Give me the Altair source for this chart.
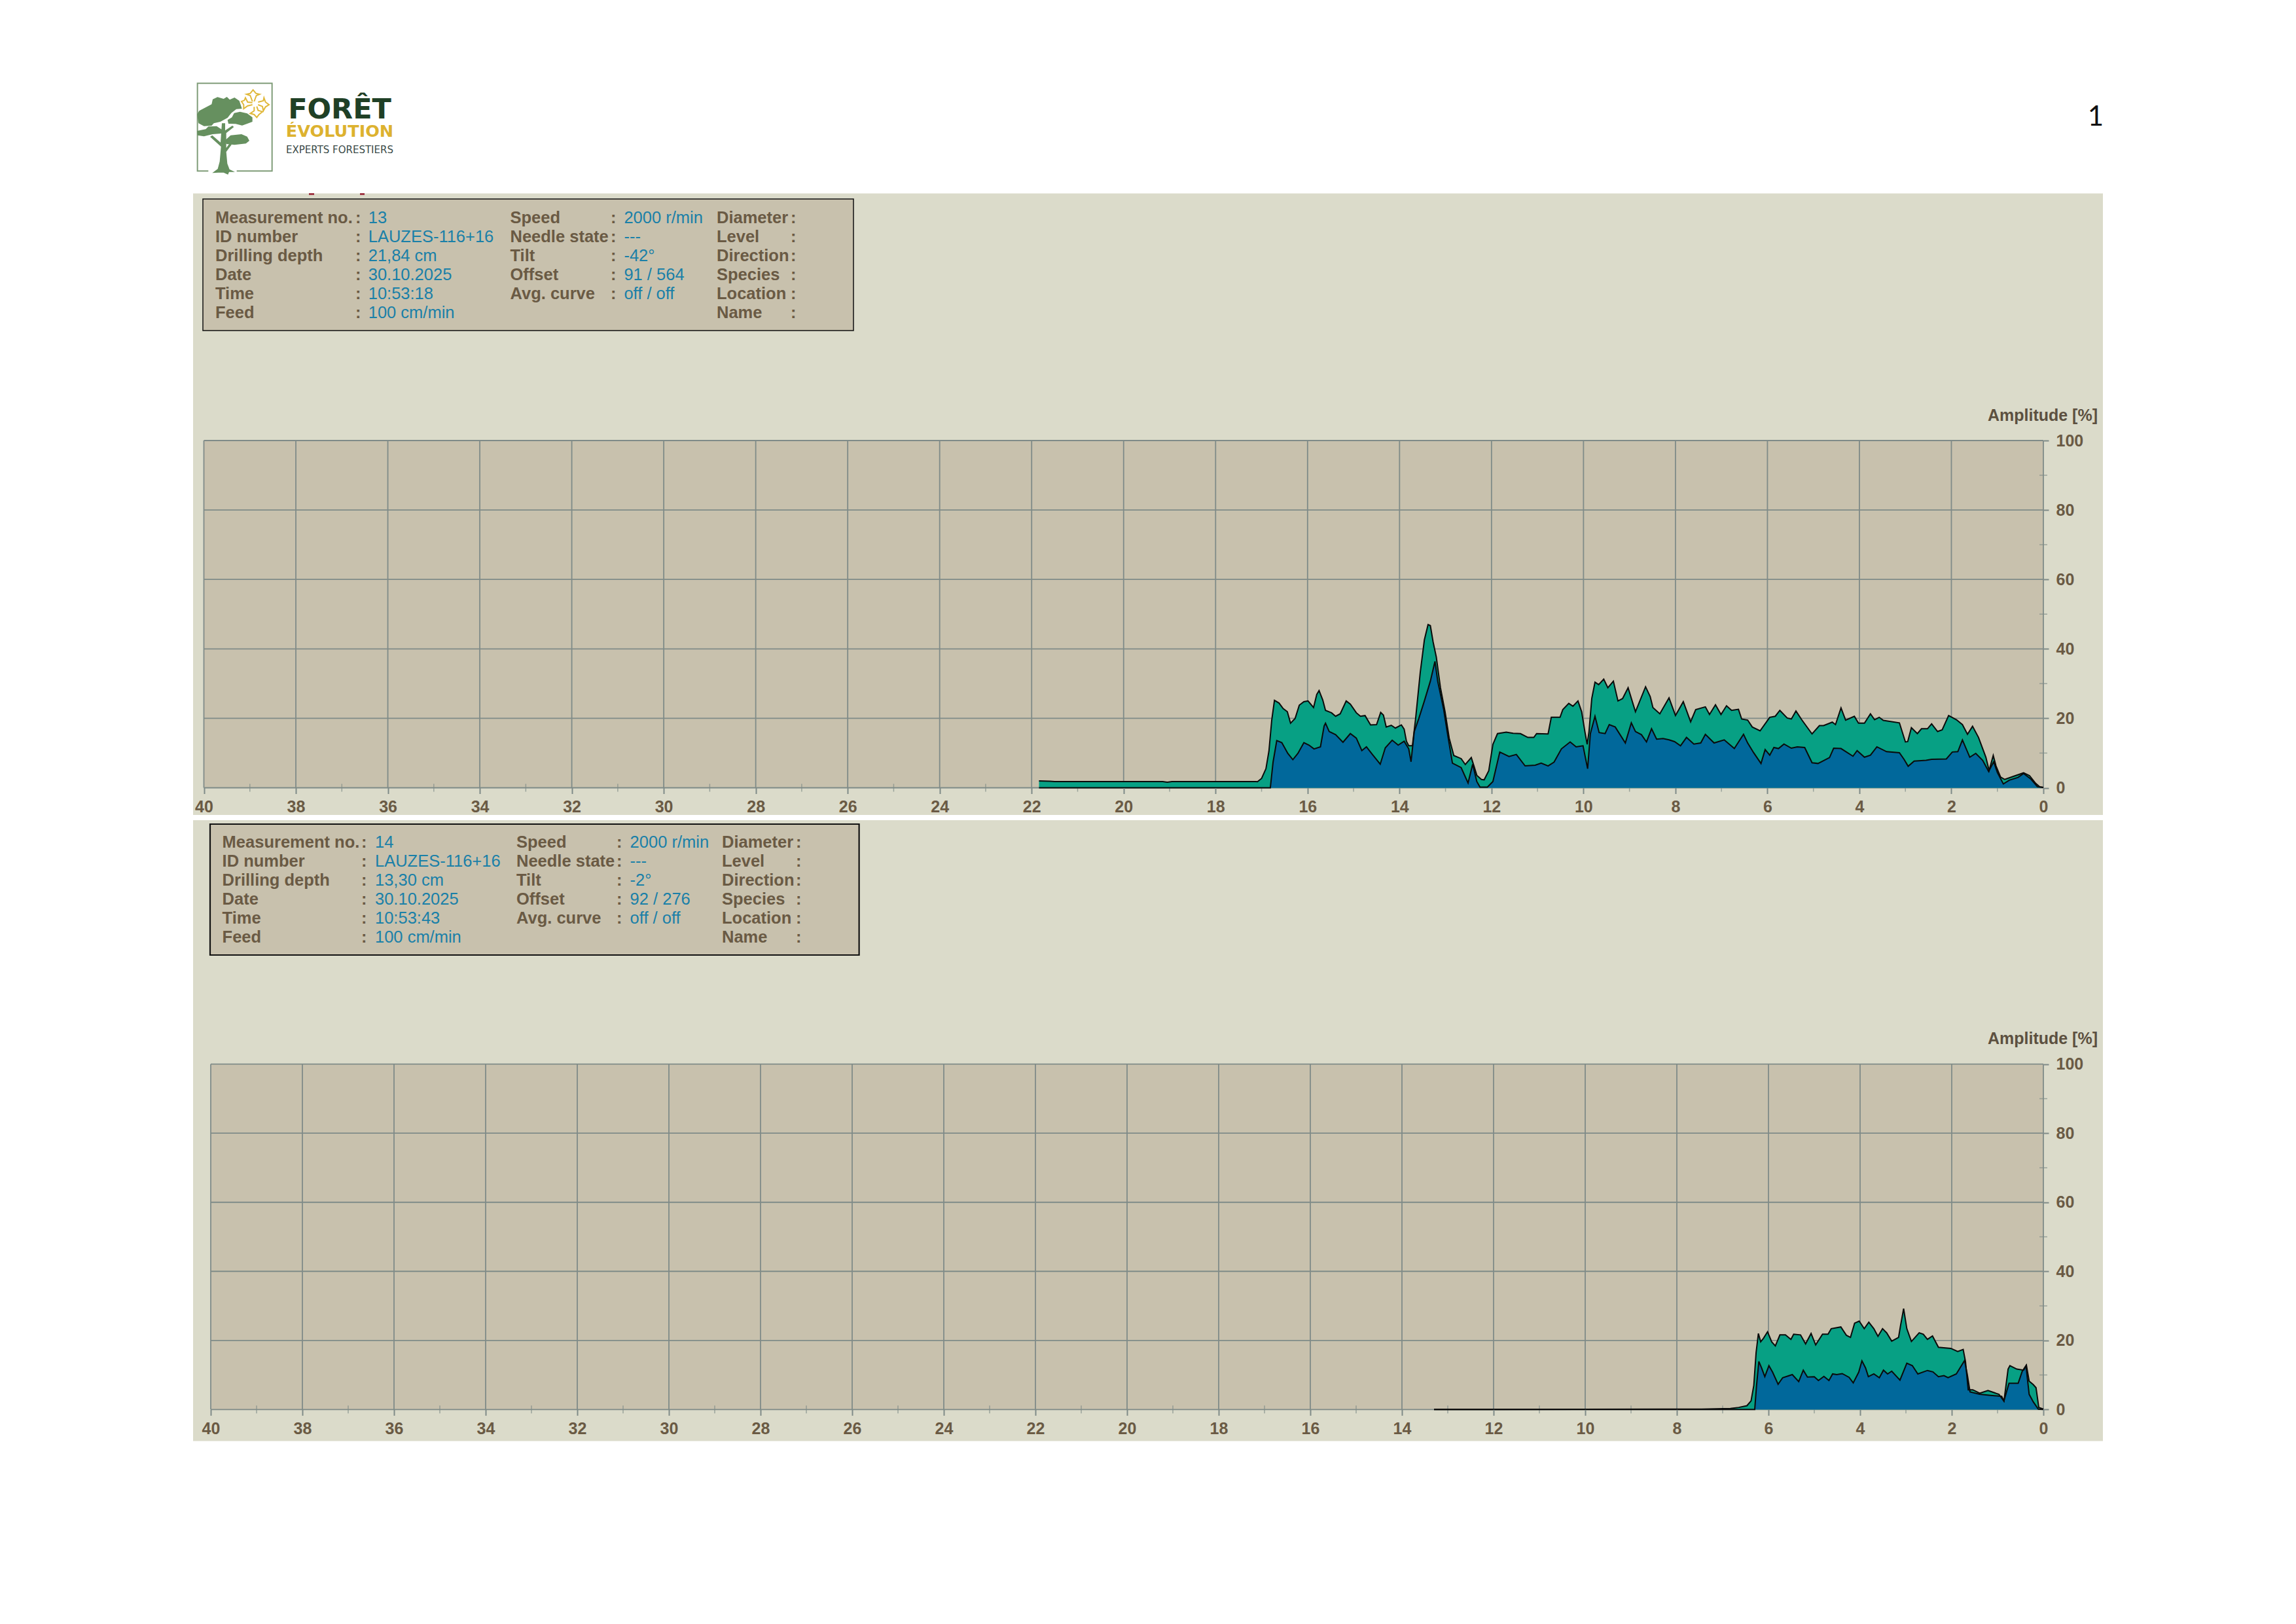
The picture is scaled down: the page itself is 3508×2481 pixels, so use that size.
import altair as alt

# ---------- data ----------
p1_green_cm = [21.84,21.6,21.5,21.3,19.15,19.05,18.95,17.12,17.09,17.0,16.905,16.84,16.78,16.72,16.62,16.53,16.44,16.37,16.27,16.18,16.08,15.99,15.87,15.8,15.75,15.67,15.61,15.48,15.39,15.29,15.16,15.07,14.94,14.85,14.75,14.63,14.5,14.41,14.35,14.29,14.18,14.09,13.96,13.9,13.85,13.8,13.72,13.65,13.55,13.46,13.38,13.33,13.27,13.2,13.11,13.01,12.92,12.82,12.66,12.57,12.44,12.38,12.32,12.22,12.16,12.06,11.97,11.87,11.68,11.53,11.37,11.21,11.08,11.02,10.77,10.7,10.51,10.45,10.32,10.23,10.12,10.04,9.97,9.92,9.88,9.82,9.75,9.67,9.56,9.47,9.35,9.25,9.15,9.03,8.87,8.65,8.55,8.49,8.34,8.14,8.0,7.83,7.67,7.56,7.35,7.26,7.13,7.01,6.89,6.78,6.63,6.56,6.43,6.33,6.16,5.95,5.83,5.73,5.57,5.48,5.38,5.25,5.03,4.87,4.78,4.59,4.52,4.4,4.3,4.11,4.02,3.89,3.76,3.67,3.57,3.48,3.13,3.0,2.95,2.87,2.74,2.65,2.52,2.43,2.3,2.2,2.06,1.89,1.76,1.65,1.54,1.41,1.25,1.18,1.09,1.03,0.93,0.84,0.65,0.43,0.3,0.17,0.08,0.0]
p1_green_amp = [2.0,1.9,1.8,1.8,1.8,1.6,1.8,1.8,1.76,2.7,5.5,10.6,19.4,25.2,24.4,22.8,21.9,18.6,20.0,23.8,24.8,25.0,23.1,26.9,28.0,25.3,22.3,21.6,20.6,21.3,25.0,24.1,21.6,20.6,20.8,18.1,18.2,21.7,20.9,17.5,18.0,17.2,18.1,16.9,13.4,12.1,12.1,20.0,33.2,42.6,47.0,46.7,42.0,37.6,28.8,21.9,14.3,9.3,8.4,6.7,8.7,6.2,3.6,2.4,2.3,4.9,12.5,15.6,16.0,15.7,15.6,14.5,14.5,15.6,15.5,20.3,20.3,22.5,24.3,23.5,25.0,21.9,16.2,12.5,16.2,25.7,30.4,29.7,31.3,28.8,30.7,25.0,25.7,28.8,21.9,29.1,26.3,23.1,21.3,25.9,20.8,24.8,19.0,22.5,23.3,21.1,23.9,21.1,23.6,22.3,22.6,19.8,19.5,17.5,16.4,20.3,20.6,22.3,20.1,19.8,22.1,19.5,15.5,17.9,17.9,18.9,18.2,23.0,19.5,20.6,18.6,18.6,21.3,19.6,20.3,19.4,18.7,13.2,13.3,17.3,15.6,17.0,17.0,18.4,16.2,16.7,20.8,19.6,18.2,15.4,17.7,14.5,8.8,5.0,9.3,6.3,3.1,2.4,3.3,4.3,3.5,1.3,0.3,0.1]

p1_blue_cm = [21.84,16.81,16.75,16.67,16.56,16.43,16.32,16.21,16.08,15.97,15.86,15.72,15.64,15.61,15.53,15.39,15.23,15.07,14.94,14.82,14.72,14.59,14.42,14.31,14.16,14.03,13.9,13.8,13.75,13.68,13.58,13.46,13.33,13.23,13.17,13.04,12.95,12.85,12.66,12.51,12.41,12.32,12.25,12.09,11.97,11.82,11.62,11.46,11.27,11.05,10.92,10.77,10.64,10.48,10.29,10.16,10.01,9.91,9.85,9.75,9.66,9.53,9.44,9.31,9.09,8.96,8.87,8.74,8.63,8.52,8.41,8.27,8.14,8.02,7.89,7.76,7.6,7.45,7.35,7.16,6.94,6.72,6.52,6.43,6.3,6.14,6.05,5.95,5.86,5.76,5.64,5.48,5.35,5.19,5.03,4.9,4.65,4.56,4.4,4.14,4.05,3.89,3.76,3.62,3.41,3.13,3.03,2.94,2.81,2.55,2.43,2.11,1.98,1.86,1.76,1.6,1.47,1.32,1.19,1.08,1.0,0.87,0.74,0.55,0.43,0.27,0.13,0.0]
p1_blue_amp = [0,0,7.4,13.6,13.0,9.9,8.1,9.9,13.0,12.3,11.2,11.8,17.8,18.6,16.2,15.3,13.1,15.6,14.3,10.7,11.8,9.6,6.8,11.5,13.7,12.3,13.4,11.2,7.5,16.2,20.0,25.0,30.7,36.4,30.7,22.5,15.0,7.1,5.8,1.4,6.8,1.8,0.2,0.2,1.8,10.3,9.0,9.6,6.3,6.5,7.1,6.3,7.4,11.2,13.2,11.8,12.1,5.5,15.6,20.6,15.9,15.6,18.2,17.5,12.9,18.7,16.2,15.3,13.2,17.0,14.0,14.2,13.8,13.3,12.1,14.5,12.6,12.9,15.4,12.9,13.8,11.3,15.4,12.9,10.1,7.0,11.0,9.4,11.6,11.3,12.6,11.4,11.8,11.6,7.2,7.0,8.7,11.4,11.3,9.1,10.7,8.8,9.4,11.8,10.4,10.1,8.2,6.2,7.7,7.9,8.2,8.3,10.3,10.4,13.8,8.8,9.9,7.9,4.7,7.5,4.4,1.1,2.2,3.0,4.1,2.5,0.3,0.1]

p2_green_cm = [13.3,7.46,6.83,6.65,6.47,6.38,6.32,6.27,6.22,6.17,6.11,6.02,5.93,5.85,5.75,5.63,5.51,5.45,5.3,5.19,5.07,4.97,4.82,4.7,4.63,4.42,4.3,4.21,4.12,4.02,3.91,3.81,3.7,3.61,3.51,3.42,3.31,3.16,3.12,3.05,2.98,2.88,2.71,2.62,2.53,2.42,2.29,2.02,1.87,1.75,1.7,1.64,1.54,1.39,1.21,0.97,0.86,0.77,0.73,0.58,0.43,0.37,0.31,0.22,0.16,0.1,0.0]
p2_green_amp = [0,0.1,0.3,0.6,1.1,2.5,7.0,16.5,22.0,19.6,20.6,22.5,19.6,18.4,21.6,21.6,20.3,21.8,21.6,19.0,22.0,18.7,21.8,21.8,23.4,23.9,21.5,20.9,25.0,25.6,23.4,25.3,23.4,21.2,23.4,22.2,19.8,20.9,24.1,29.2,23.4,19.7,22.2,21.8,20.3,21.3,18.0,17.7,16.8,17.4,13.9,5.7,5.7,4.7,5.5,4.4,2.4,11.7,12.7,11.7,11.4,12.8,8.2,7.2,6.3,0.6,0.1]

p2_blue_cm = [13.3,6.3,6.26,6.21,6.15,6.08,5.99,5.91,5.79,5.69,5.48,5.34,5.24,5.15,5.0,4.91,4.79,4.68,4.6,4.51,4.39,4.24,4.15,4.03,3.96,3.88,3.82,3.7,3.58,3.49,3.4,3.31,3.13,2.98,2.86,2.74,2.53,2.41,2.29,2.17,2.08,1.9,1.72,1.66,1.6,1.39,1.15,0.91,0.86,0.75,0.55,0.46,0.38,0.31,0.22,0.11,0.0]
p2_blue_amp = [0,0,7.0,13.9,12.0,9.5,12.7,10.8,7.3,9.2,10.1,8.1,11.4,9.4,9.5,8.4,9.6,8.4,10.3,10.1,10.4,9.3,7.7,10.8,14.1,12.0,9.5,10.3,9.2,11.4,10.3,11.1,8.5,13.4,12.7,10.3,11.3,10.9,9.5,9.8,9.2,10.3,14.2,10.1,5.1,4.4,4.1,3.8,2.5,7.6,7.6,11.1,12.7,4.4,2.2,0.1,0.0]

x_major = list(range(40, -1, -2))
x_minor = list(range(39, 0, -2))
y_major = [0, 20, 40, 60, 80, 100]
y_minor = [10, 30, 50, 70, 90]

info_labels_1 = ["Measurement no.", "ID number", "Drilling depth", "Date", "Time", "Feed"]
info_labels_2 = ["Speed", "Needle state", "Tilt", "Offset", "Avg. curve"]
info_labels_3 = ["Diameter", "Level", "Direction", "Species", "Location", "Name"]
panel1_values_1 = ["13", "LAUZES-116+16", "21,84 cm", "30.10.2025", "10:53:18", "100 cm/min"]
panel1_values_2 = ["2000 r/min", "---", "-42°", "91 / 564", "off / off"]
panel2_values_1 = ["14", "LAUZES-116+16", "13,30 cm", "30.10.2025", "10:53:43", "100 cm/min"]
panel2_values_2 = ["2000 r/min", "---", "-2°", "92 / 276", "off / off"]

# ---------- styles ----------
W, H = 3492, 2465
PANEL = "#DBDBCA"
PLOT = "#C8C1AD"
GRID = "#7F8B88"
LABEL = "#6A5A44"
VALUE = "#1A80A8"
GREEN = "#07A084"
BLUE = "#01689B"
TREE = "#66905F"
CROSS = "#E0B83A"
FONT = "Liberation Sans"
ONE = alt.Data(values=[{"a": 1}])


def px(v):
    return alt.value(v - 8)


def rect(x0, y0, x1, y1, fill, stroke=None, sw=0):
    kw = {"stroke": stroke, "strokeWidth": sw} if stroke else {}
    return alt.Chart(ONE).mark_rect(fill=fill, **kw).encode(
        x=px(x0), x2=px(x1), y=px(y0), y2=px(y1))


def text(s, x, y, size=25.5, color=LABEL, weight="normal", align="left", baseline="middle", font=FONT):
    return alt.Chart(ONE).mark_text(
        text=s, fontSize=size, color=color, fontWeight=weight, align=align, baseline=baseline, font=font
    ).encode(x=px(x), y=px(y))


def shape(path, fill=None, stroke=None, sw=2):
    kw = {"filled": True, "fill": fill, "strokeWidth": 0} if fill else {"filled": False, "stroke": stroke, "strokeWidth": sw}
    return alt.Chart(ONE).mark_point(shape=path, size=4 / 9, opacity=1, **kw).encode(x=px(295), y=px(120))


def column(values, x, y_first, y_last, rows, color, weight):
    data = alt.Data(values=[{"t": t, "row": i} for i, t in enumerate(values)])
    return alt.Chart(data).mark_text(
        align="left", baseline="middle", fontSize=25.5, font=FONT, color=color, fontWeight=weight
    ).encode(
        x=px(x),
        y=alt.Y("row:Q", axis=None, scale=alt.Scale(domain=[0, rows], range=[y_first - 8, y_last - 8])),
        text="t:N",
    )


def info(box, cols, y_first, y_last, v1, v2):
    x0, y0, x1, y1, sw = box
    out = [rect(x0, y0, x1, y1, PLOT, "#111111", sw)]
    out += [
        column(info_labels_1, cols[0], y_first, y_last, 5, LABEL, "bold"),
        column([":"] * 6, cols[1], y_first, y_last, 5, LABEL, "bold"),
        column(v1, cols[2], y_first, y_last, 5, VALUE, "normal"),
        column(info_labels_2, cols[3], y_first, y_last, 5, LABEL, "bold"),
        column([":"] * 5, cols[4], y_first, y_last, 5, LABEL, "bold"),
        column(v2, cols[5], y_first, y_last, 5, VALUE, "normal"),
        column(info_labels_3, cols[6], y_first, y_last, 5, LABEL, "bold"),
        column([":"] * 6, cols[7], y_first, y_last, 5, LABEL, "bold"),
    ]
    return out


def plot(left, right, top, bottom, gc, ga, bc, ba):
    xs = alt.Scale(domain=[40, 0], range=[left - 8, right - 8])
    ys = alt.Scale(domain=[0, 100], range=[bottom - 8, top - 8])
    no_x = alt.X("v:Q", axis=None, scale=xs)
    ax_common = dict(labelFont=FONT, labelFontSize=25, labelFontWeight="bold", labelColor=LABEL,
                     tickColor=GRID, tickWidth=2, domain=False, grid=False, format="d", title=None,
                     labelOverlap=False, labelFlush=False, zindex=1)
    xaxis = alt.Axis(values=x_major, orient="bottom", offset=bottom - 8 - H, tickSize=9, labelPadding=8, **ax_common)
    yaxis = alt.Axis(values=y_major, orient="right", offset=right - 8 - W, tickSize=8, labelPadding=11, **ax_common)

    v_data = alt.Data(values=[{"v": v, "lo": 0, "hi": 100} for v in x_major])
    h_data = alt.Data(values=[{"v": v, "lo": 40, "hi": 0} for v in y_major])
    v_grid = alt.Chart(v_data).mark_rule(color=GRID, strokeWidth=1.8).encode(
        x=alt.X("v:Q", axis=xaxis, scale=xs),
        y=alt.Y("lo:Q", axis=None, scale=ys), y2="hi:Q")
    h_grid = alt.Chart(h_data).mark_rule(color=GRID, strokeWidth=1.8).encode(
        y=alt.Y("v:Q", axis=yaxis, scale=ys),
        x=alt.X("lo:Q", axis=None, scale=xs), x2="hi:Q")
    x_min = alt.Chart(alt.Data(values=[{"v": v} for v in x_minor])).mark_tick(
        orient="vertical", color=GRID, size=12, thickness=1.5
    ).encode(x=no_x, y=px(bottom))
    y_min = alt.Chart(alt.Data(values=[{"v": v} for v in y_minor])).mark_tick(
        orient="horizontal", color=GRID, size=12, thickness=1.5
    ).encode(y=alt.Y("v:Q", axis=None, scale=ys), x=px(right))

    def frame(c, a):
        return alt.Data(values=[{"cm": i, "amp": j} for i, j in zip(c, a)])

    enc = dict(x=alt.X("cm:Q", axis=None, scale=xs), y=alt.Y("amp:Q", axis=None, scale=ys))
    g_area = alt.Chart(frame(gc, ga)).mark_area(color=GREEN).encode(**enc)
    b_area = alt.Chart(frame(bc, ba)).mark_area(color=BLUE).encode(**enc)
    g_line = alt.Chart(frame(gc, ga)).mark_line(color="#0A0A0A", strokeWidth=2).encode(**enc)
    b_line = alt.Chart(frame(bc, ba)).mark_line(color="#0A0A0A", strokeWidth=2).encode(**enc)
    return [rect(left, top, right, bottom, PLOT), v_grid, h_grid, x_min, y_min, g_area, b_area, g_line, b_line]


# ---------- logo ----------
logo = [
    shape("M70,424 L20,424 L20,22 L362,22 L362,424 L200,424", stroke="#7F9C78", sw=2),
    shape("M18,165 L28,148 L58,132 L85,118 L90,95 L112,85 L140,93 L155,84 L168,97 L190,87 L212,102 L224,138 "
          "L198,140 L175,158 L158,180 L125,198 L95,205 L85,216 L50,218 L25,205 Z", fill=TREE),
    shape("M158,190 L178,178 L188,158 L215,152 L248,160 L272,178 L272,198 L248,207 L225,215 L195,208 L162,207 Z", fill=TREE),
    shape("M18,240 L58,232 L70,220 L108,218 L138,238 L128,252 L90,255 L50,265 L20,260 Z", fill=TREE),
    shape("M148,282 L172,260 L222,255 L248,266 L258,285 L242,298 L190,304 L152,300 Z", fill=TREE),
    shape("M132,205 L147,205 L147,238 L180,216 L187,222 L152,250 L152,318 L168,296 L177,302 L152,336 L157,390 "
          "L167,416 L192,428 L165,428 L160,440 L140,431 L115,431 L88,433 L113,414 L122,380 L128,312 L78,267 L88,260 L126,293 Z", fill=TREE),
    shape("M272,105 L262,78 L245,72 L262,68 L275,52 L288,68 L305,72 L290,78 L280,105", stroke=CROSS, sw=2),
    shape("M298,108 L322,102 L325,88 L332,108 L348,120 L332,130 L322,148 L318,128 L298,120", stroke=CROSS, sw=2),
    shape("M280,130 L280,148 L262,160 L280,165 L292,178 L302,165 L318,152 L298,146 L292,128", stroke=CROSS, sw=2),
    shape("M272,110 L250,108 L240,88 L235,100 L222,105 L232,120 L232,138 L250,125 L272,120", stroke=CROSS, sw=2),
    text("FORÊT", 519, 181, size=43, color="#1F4026", weight="bold", align="center", baseline="alphabetic", font="DejaVu Sans"),
    text("ÉVOLUTION", 519, 209, size=25.5, color="#DDB22F", weight="bold", align="center", baseline="alphabetic", font="DejaVu Sans"),
    text("EXPERTS FORESTIERS", 519, 234, size=15, color="#3A4A48", align="center", baseline="alphabetic", font="DejaVu Sans"),
]

layers = []
layers += [rect(295, 295.5, 3213, 1245, PANEL), rect(295, 1253, 3213, 2201.5, PANEL)]
layers += [rect(472, 295, 480, 298, "#A03A48"), rect(550, 295, 557, 298, "#A03A48")]
layers += logo
layers.append(text("1", 3214, 192, size=42, color="#111111", align="right", baseline="alphabetic", font="Lato"))
layers += info((310, 304, 1304, 505, 1.5), [329, 543, 562.7, 779.5, 933, 953.4, 1095, 1208], 333, 478,
               panel1_values_1, panel1_values_2)
layers += info((321, 1259, 1312.6, 1459, 2.2), [339.6, 552, 573, 789, 942, 962.6, 1103, 1216], 1287, 1432,
               panel2_values_1, panel2_values_2)
layers.append(text("Amplitude [%]", 3205, 635, size=25, weight="bold", color="#5C5040", align="right"))
layers.append(text("Amplitude [%]", 3205, 1587, size=25, weight="bold", color="#5C5040", align="right"))
layers += plot(311.5, 3122, 673, 1203.5, p1_green_cm, p1_green_amp, p1_blue_cm, p1_blue_amp)
layers += plot(322, 3122, 1625.7, 2153.3, p2_green_cm, p2_green_amp, p2_blue_cm, p2_blue_amp)

chart = alt.layer(*layers).resolve_scale(x="independent", y="independent").properties(
    width=W, height=H, padding=0, background="white",
    autosize=alt.AutoSizeParams(type="none", contains="padding"),
).configure_view(stroke=None)

chart.save("out.html", embed_options={"renderer": "svg", "actions": False})
